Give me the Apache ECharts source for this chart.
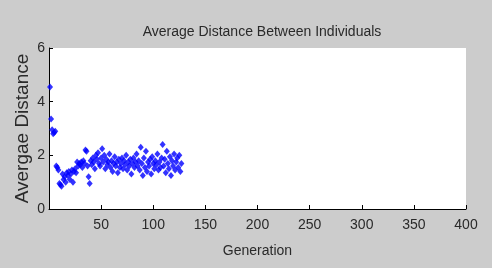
<!DOCTYPE html>
<html>
<head>
<meta charset="utf-8">
<script src="https://cdn.jsdelivr.net/npm/echarts@6/dist/echarts.min.js"></script>
<style>
  html, body { margin: 0; padding: 0; background: #cccccc; }
  #AvgDistChart { width: 492px; height: 268px; }
</style>
</head>
<body>
<div id="AvgDistChart"></div>
<script>
// average distance per generation (generation 1..127)
const avg_distance = [
  4.55, 3.35, 2.95, 2.8, 2.85, 2.9, 1.6, 1.55, 1.45, 0.95,
  0.9, 0.85, 1.3, 1.1, 1.2, 1.0, 1.35, 1.25, 1.4, 1.1,
  1.3, 1.45, 1.0, 1.4, 1.5, 1.35, 1.75, 1.6, 1.7, 1.65,
  1.75, 1.55, 1.8, 1.7, 2.2, 2.15, 1.6, 1.2, 0.95, 1.8,
  1.65, 1.9, 1.75, 1.5, 2.0, 1.85, 2.1, 1.7, 1.6, 1.9,
  2.25, 1.75, 2.0, 1.5, 1.85, 1.65, 1.75, 2.05, 1.55, 1.8,
  1.4, 1.7, 1.95, 1.6, 1.75, 1.35, 1.85, 1.55, 1.7, 1.9,
  1.5, 1.8, 1.65, 2.0, 1.45, 1.75, 1.6, 1.85, 1.3, 1.7,
  1.9, 1.55, 1.75, 2.05, 1.6, 1.8, 1.45, 2.3, 1.7, 1.25,
  1.9, 1.55, 2.15, 1.4, 1.75, 1.6, 1.85, 1.3, 1.95, 1.7,
  1.5, 1.8, 1.65, 2.05, 1.45, 1.75, 1.55, 1.9, 2.4, 1.6,
  1.85, 1.35, 2.15, 1.7, 1.5, 1.95, 1.25, 1.8, 1.6, 2.05,
  1.45, 1.75, 1.9, 1.55, 2.0, 1.4, 1.7
];
const x_ticks = [0, 50, 100, 150, 200, 250, 300, 350, 400];
const y_ticks = [0, 2, 4, 6];

const points = avg_distance.map((v, i) => [i + 1, v]);

const chartDom = document.getElementById("AvgDistChart");
const myChart = echarts.init(chartDom);
const font = "Arial, 'Liberation Sans', sans-serif";
const option = {
  backgroundColor: "#cccccc",
  animation: false,
  title: {
    text: "Average Distance Between Individuals",
    left: 257,
    top: 20,
    textAlign: "center",
    textStyle: { fontFamily: font, fontSize: 14, fontWeight: "normal", color: "#2a2a2a" },
  },
  grid: {
    left: 49,
    right: 26,
    top: 48,
    bottom: 59,
    show: true,
    backgroundColor: "#ffffff",
    borderWidth: 0,
  },
  xAxis: {
    type: "value",
    min: x_ticks[0],
    max: x_ticks[x_ticks.length - 1],
    interval: 50,
    name: "Generation",
    nameLocation: "middle",
    nameGap: 35,
    nameMoveOverlap: false,
    nameTextStyle: { fontFamily: font, fontSize: 14, color: "#2a2a2a" },
    axisLine: { lineStyle: { color: "#000", width: 1 } },
    axisTick: { inside: true, length: 4, lineStyle: { color: "#000" } },
    axisLabel: { showMinLabel: false, fontFamily: font, fontSize: 14, color: "#2a2a2a", margin: 9 },
    splitLine: { show: false },
  },
  yAxis: {
    type: "value",
    min: y_ticks[0],
    max: y_ticks[y_ticks.length - 1],
    interval: 2,
    name: "Avergae Distance",
    nameLocation: "middle",
    nameGap: 17,
    nameMoveOverlap: false,
    nameTextStyle: { fontFamily: font, fontSize: 19, color: "#2a2a2a" },
    axisLine: { lineStyle: { color: "#000", width: 1 } },
    axisTick: { inside: true, length: 4, lineStyle: { color: "#000" } },
    axisLabel: { fontFamily: font, fontSize: 14, color: "#2a2a2a", margin: 4 },
    splitLine: { show: false },
  },
  series: [
    {
      type: "scatter",
      data: points,
      symbol: "diamond",
      symbolSize: [6, 7],
      itemStyle: { color: "#0000ff" },
    },
  ],
};
option && myChart.setOption(option);
</script>
</body>
</html>
